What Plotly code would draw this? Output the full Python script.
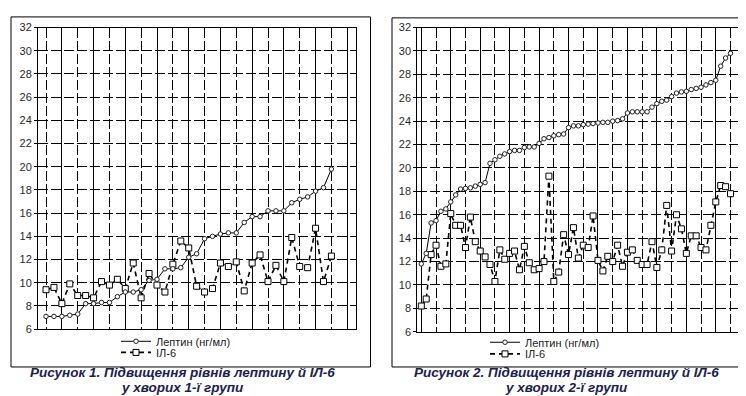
import plotly.graph_objects as go

# ---------------- data ----------------
# Figure 1 (group 1)
leptin_1 = [7.1, 7.1, 7.1, 7.2, 7.3, 8.2, 8.2, 8.3, 8.3, 8.8, 9.2, 9.2, 9.4, 10.2, 10.3,
            11.2, 11.2, 11.3, 12.2, 12.5, 13.8, 14.0, 14.2, 14.3, 14.3, 15.2, 15.7, 15.7,
            16.2, 16.2, 16.2, 16.9, 17.2, 17.4, 17.9, 18.2, 19.8]
il6_1 = [9.4, 9.6, 8.2, 9.9, 8.9, 8.9, 8.7, 10.1, 9.8, 10.3, 9.5, 11.7, 8.7, 10.8, 9.8,
         9.2, 11.6, 13.6, 13.0, 9.7, 9.2, 9.5, 11.7, 11.4, 11.8, 9.3, 11.7, 12.4, 10.1,
         11.5, 10.1, 13.9, 11.4, 11.3, 14.7, 10.1, 12.3]

# Figure 2 (group 2)
leptin_2 = [11.8, 12.7, 15.3, 15.5, 16.3, 16.5, 17.1, 17.7, 18.2, 18.25, 18.3, 18.45, 18.6,
            18.75, 20.4, 20.7, 21.0, 21.2, 21.4, 21.5, 21.5, 21.75, 21.8, 21.8, 22.1, 22.5,
            22.6, 22.75, 22.85, 22.9, 23.45, 23.6, 23.6, 23.7, 23.75, 23.8, 23.85, 23.9,
            23.9, 24.0, 24.05, 24.2, 24.7, 24.8, 24.8, 24.8, 24.8, 25.2, 25.5, 25.7, 25.8,
            26.1, 26.4, 26.5, 26.55, 26.7, 26.8, 26.9, 27.1, 27.3, 27.5, 28.7, 29.4, 29.8]
il6_2 = [8.2, 8.8, 12.6, 13.4, 11.6, 11.8, 16.1, 15.1, 15.1, 13.2, 15.8, 13.7, 12.9, 12.4,
         11.75, 10.3, 13.0, 12.2, 12.7, 12.9, 11.3, 13.3, 11.9, 11.3, 11.4, 12.0, 19.3,
         10.3, 11.1, 14.3, 12.6, 14.9, 12.3, 13.4, 13.2, 15.9, 12.1, 11.2, 12.45, 12.0,
         13.4, 11.6, 12.8, 13.0, 12.1, 11.75, 11.75, 13.7, 11.5, 13.0, 16.8, 12.9, 16.0,
         14.8, 12.7, 14.2, 14.2, 13.2, 13.0, 15.1, 17.1, 18.5, 18.4, 17.8]

y_ticks = list(range(6, 33, 2))
name_leptin = "Лептин (нг/мл)"
name_il6 = "ІЛ-6"
caption_1 = ["Рисунок 1. Підвищення рівнів лептину й ІЛ-6", "у хворих 1-ї групи"]
caption_2 = ["Рисунок 2. Підвищення рівнів лептину й ІЛ-6", "у хворих 2-ї групи"]

# ---------------- layout helpers ----------------
W, H = 746, 396
FONT = "Liberation Sans, Arial, sans-serif"
DASH = "10px,3px"


def px(x):
    return x / W


def py(y):
    return 1 - y / H


fig = go.Figure()


def add_panel(lep, il6, xa, ya, leg_a, leg_b):
    xs = list(range(len(lep)))
    fig.add_trace(go.Scatter(
        x=xs, y=il6, mode="lines+markers", name=name_il6, xaxis=xa, yaxis=ya,
        legend=leg_b,
        line=dict(color="black", width=1.6, dash="5px,4px"),
        marker=dict(symbol="square", size=6, color="white",
                    line=dict(color="black", width=1)),
    ))
    fig.add_trace(go.Scatter(
        x=xs, y=lep, mode="lines+markers", name=name_leptin, xaxis=xa, yaxis=ya,
        legend=leg_a,
        line=dict(color="black", width=1),
        marker=dict(symbol="circle", size=4.5, color="white",
                    line=dict(color="#222", width=1)),
    ))


add_panel(leptin_1, il6_1, "x", "y", "legend", "legend2")
add_panel(leptin_2, il6_2, "x2", "y2", "legend3", "legend4")


def xaxis_cfg(dom, rng, t0, major, minor):
    return dict(
        domain=dom, range=rng, showline=True, mirror=True, linecolor="black", linewidth=1,
        showticklabels=False, ticks="", zeroline=False,
        showgrid=True, tick0=t0, dtick=major, gridcolor="black", gridwidth=1,
        minor=dict(tick0=0, dtick=minor, showgrid=True, gridcolor="black",
                   gridwidth=1, griddash=DASH, ticks=""),
    )


def yaxis_cfg(dom, anchor):
    return dict(
        domain=dom, range=[6, 32], anchor=anchor, tickvals=y_ticks,
        ticktext=[str(v) for v in y_ticks], ticks="outside", ticklen=3,
        tickcolor="black", tickfont=dict(family=FONT, size=11, color="#2a2a2a"),
        showline=True, mirror=True, linecolor="black", linewidth=1, zeroline=False,
        showgrid=True, gridcolor="black", gridwidth=1, griddash=DASH,
    )


fig.update_layout(
    width=W, height=H, margin=dict(l=0, r=0, t=0, b=0),
    paper_bgcolor="white", plot_bgcolor="white",
    font=dict(family=FONT, color="#222"),
    xaxis=dict(xaxis_cfg([px(30), px(348)], [-1.01, 39.1], 2, 4, 2), anchor="y"),
    yaxis=yaxis_cfg([py(325), py(14)], "x"),
    xaxis2=dict(xaxis_cfg([px(409.3), px(733.3)], [-0.815, 65.2], 0, 6, 3), anchor="y2"),
    yaxis2=yaxis_cfg([py(327.7), py(14)], "x2"),
    showlegend=True,
)

leg_common = dict(xanchor="left", yanchor="middle", bgcolor="rgba(0,0,0,0)",
                  borderwidth=0, font=dict(family=FONT, size=11, color="#222"),
                  itemwidth=30, itemclick=False, itemdoubleclick=False)
fig.update_layout(
    legend=dict(leg_common, x=px(108), y=py(337.5)),
    legend2=dict(leg_common, x=px(108), y=py(349)),
    legend3=dict(leg_common, x=px(477), y=py(338.5)),
    legend4=dict(leg_common, x=px(477), y=py(350.5)),
)

# outer frames
for x0, x1, y0 in [(3, 362.5, 3), (384, 741, 4)]:
    fig.add_shape(type="rect", xref="paper", yref="paper",
                  x0=px(x0), x1=px(x1), y0=py(364), y1=py(y0),
                  line=dict(color="black", width=1), fillcolor="rgba(0,0,0,0)")

# captions
for cx, cap in [(174, caption_1), (558, caption_2)]:
    for line, yy in zip(cap, [370, 385]):
        fig.add_annotation(
            x=px(cx), y=py(yy), xref="paper", yref="paper", text=line, showarrow=False,
            xanchor="center", yanchor="middle",
            font=dict(family=FONT, size=13.5, color="#1c2050", weight="bold", style="italic"),
        )

fig.write_html("out.html")
